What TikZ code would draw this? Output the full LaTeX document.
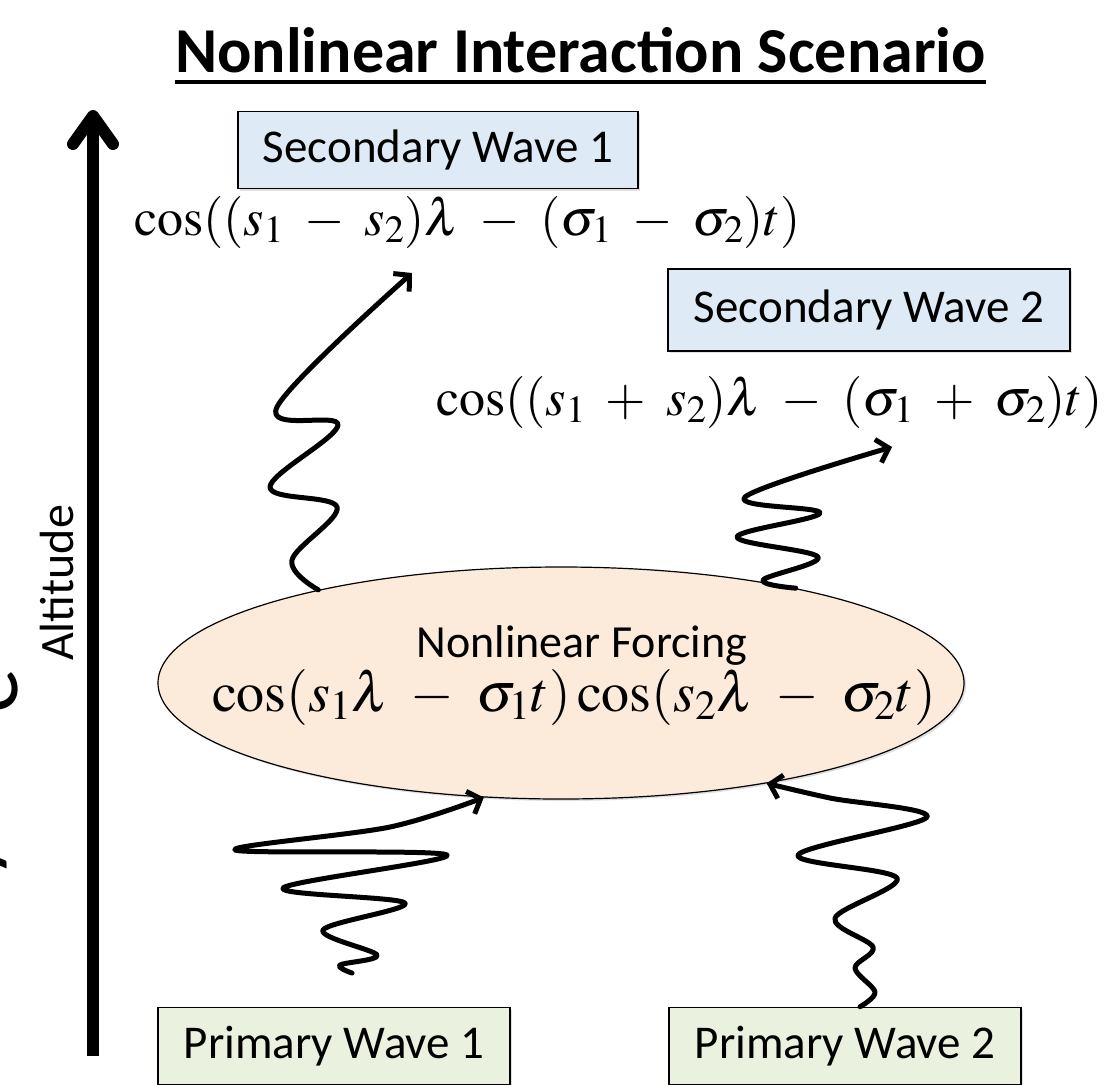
\documentclass[tikz,border=0pt]{standalone}
\usepackage{mathptmx}
\usepackage[no-math]{fontspec}
\setmainfont{Carlito}
\usetikzlibrary{arrows.meta,shapes.geometric,shadows}
\definecolor{swfill}{RGB}{222,235,246}
\definecolor{pwfill}{RGB}{235,241,223}
\definecolor{nffill}{RGB}{252,234,218}
\begin{document}
\begin{tikzpicture}[x=1pt,y=-1pt,
  wavebox/.style={draw=black, line width=1.6pt, fill=#1, minimum height=77pt, inner sep=0pt,
    font=\fontsize{47}{56}\selectfont,
    drop shadow={shadow xshift=2pt,shadow yshift=-2pt,opacity=0.25}},
  eqn/.style={inner sep=0pt, font=\fontsize{52}{60}\selectfont},
  wave/.style={line width=5pt, line cap=round, line join=round, -{Straight Barb[length=11pt,width=24pt]}},
  bigtxt/.style={inner sep=0pt, font=\fontsize{90}{100}\selectfont, rotate=90, anchor=base}]
\useasboundingbox (0,0) rectangle (1107,1084);

% title
\node[inner sep=0pt, anchor=base west, font=\bfseries\fontsize{64}{74}\selectfont] (title) at (175,72) {Nonlinear Interaction Scenario};
\draw[line width=4.5pt] ([yshift=-10pt]title.base west) -- ([yshift=-10pt]title.base east);

% altitude axis
\coordinate (altbot) at (93,1056);
\coordinate (alttop) at (93,110);
\draw[line width=12pt, -{Straight Barb[length=28pt,width=40pt,round]}] (altbot) -- (alttop);
\node[inner sep=0pt, rotate=90, anchor=base, font=\fontsize{48}{56}\selectfont] (alt) at (73,583) {Altitude};
\node[bigtxt] (cute) at (17,691) {e};
\node[bigtxt] (cuty) at (-8,858) {y};

% boxes
\node[wavebox=swfill, minimum width=400pt] (sw1) at (438,150) {Secondary Wave 1};
\node[wavebox=swfill, minimum width=402pt, minimum height=82pt] (sw2) at (869,310) {Secondary Wave 2};
\node[wavebox=pwfill, minimum width=352pt] (pw1) at (334,1046) {Primary Wave 1};
\node[wavebox=pwfill, minimum width=352pt] (pw2) at (845,1046) {Primary Wave 2};

% formulas
\node[eqn, anchor=base west] (eq1) at (134,235) {$\medmuskip=7mu \cos((s_1-s_2)\lambda-(\sigma_1-\sigma_2)t)$};
\node[eqn, anchor=base east] (eq2) at (1103,415) {$\medmuskip=7mu \cos((s_1+s_2)\lambda-(\sigma_1+\sigma_2)t)$};

% forcing ellipse
\node[ellipse, draw=black, line width=1.2pt, fill=nffill, minimum width=806pt, minimum height=232pt, inner sep=0pt,
  drop shadow={shadow xshift=2pt,shadow yshift=-2pt,opacity=0.25}] (forcing) at (561,683) {};
\node[inner sep=0pt, anchor=base, font=\fontsize{46}{54}\selectfont] (nftxt) at (582,657) {Nonlinear Forcing};
\node[eqn, anchor=base, font=\fontsize{56}{64}\selectfont] (eq3) at (574,711) {$\medmuskip=7mu \cos(s_1\lambda-\sigma_1 t)\cos(s_2\lambda-\sigma_2 t)$};

% wavy arrows
\coordinate (a1) at (412,273);
\coordinate (b1) at (892,447);
\coordinate (c0) at (352,973);
\coordinate (d0) at ([xshift=15pt]pw2.north);
\draw[wave] plot[smooth, tension=0.6] coordinates {(forcing.159) (292,560) (337,507) (270,487) (338,425) (277,407) (a1)};
\draw[wave] plot[smooth, tension=0.6] coordinates {(forcing.22) (763,580) (818,557) (737,537) (820,513) (745,497) (b1)};
\draw[wave] plot[smooth, tension=0.55] coordinates {(c0) (340,965) (377,955) (323,930) (405,903) (283,888) (447,855) (235,850) (390,827) (forcing.236)};
\draw[wave] plot[smooth, tension=0.55] coordinates {(d0) (875,992) (855,968) (873,947) (835,918) (897,878) (798,855) (927,817) (830,798) (forcing.334)};
\end{tikzpicture}
\end{document}
